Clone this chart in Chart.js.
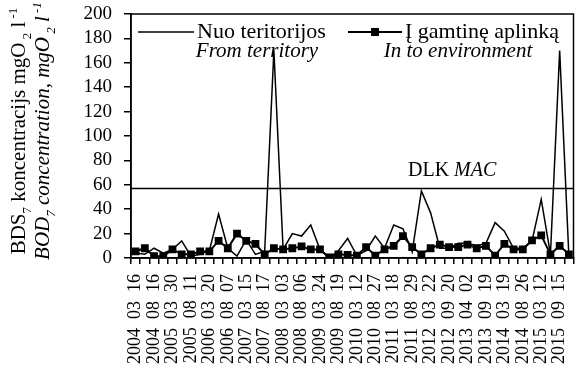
<!DOCTYPE html>
<html>
<head>
<meta charset="utf-8">
<script src="https://cdn.jsdelivr.net/npm/chart.js@4.4.0/dist/chart.umd.min.js"></script>
<style>
  html, body { margin: 0; padding: 0; background: #fff; }
  #wrap { width: 579px; height: 383px; }
</style>
</head>
<body>
<div id="wrap"><canvas id="bodChart" width="579" height="383"></canvas></div>
<script>
// sampling dates shown on the axis (every second sample is labelled)
const dateLabels = [
  '2004 03 16', '2004 08 16', '2005 03 30', '2005 08 11', '2006 03 20', '2006 08 07',
  '2007 03 15', '2007 08 17', '2008 03 03', '2008 08 06', '2009 03 24', '2009 08 19',
  '2010 03 12', '2010 08 27', '2011 03 18', '2011 08 29', '2012 03 22', '2012 09 20',
  '2013 04 02', '2013 09 19', '2014 03 19', '2014 08 26', '2015 03 12', '2015 09 15'
];

// BOD7, mgO2/l
const fromTerritory = [
  4, 3, 8, 4, 7, 14, 1.5, 3, 6, 36, 8, 1.5,
  15, 3, 5.5, 170, 7, 20, 18, 27, 7, 0, 6, 16,
  2, 6, 18, 8, 27, 24, 5, 55, 37, 8, 8, 12,
  12, 10, 12, 29, 22, 8, 8, 14, 48, 3, 170, 1
];
const toEnvironment = [
  5.5, 8, 1.5, 1.5, 7, 3, 3, 5.5, 5.5, 14, 8, 20,
  14, 11.5, 3, 8, 7, 8, 9.5, 7, 7, 0.5, 3, 2.5,
  2, 9, 2, 7, 10, 18, 9, 3, 8, 11, 9, 9,
  11, 8, 10, 2, 11.5, 7, 7, 14.5, 18.5, 3, 10, 3
];
const dlkLimit = 57;   // DLK / MAC
const yMin = 0, yMax = 200, yStep = 20;

const categories = dateLabels.flatMap(d => [d, '']);
const serif = "'Liberation Serif', 'Times New Roman', serif";

// text with sub/superscripts, centred on x
function drawRich(ctx, parts, x, y, size, italic) {
  const fontFor = k => (italic ? 'italic ' : '') + (k === 'n' ? size : Math.round(size * 0.62)) + 'px ' + serif;
  let total = 0;
  parts.forEach(([t, k]) => { ctx.font = fontFor(k); total += ctx.measureText(t).width; });
  let cx = x - total / 2;
  parts.forEach(([t, k]) => {
    ctx.font = fontFor(k);
    const dy = k === 'sub' ? size * 0.28 : k === 'sup' ? -size * 0.4 : 0;
    ctx.fillText(t, cx, y + dy);
    cx += ctx.measureText(t).width;
  });
}

const overlay = {
  id: 'overlay',
  afterDatasetsDraw(chart) {
    const ctx = chart.ctx;
    const area = chart.chartArea;
    const y = chart.scales.y;
    ctx.save();
    ctx.strokeStyle = '#000';
    ctx.fillStyle = '#000';

    // frame
    ctx.lineWidth = 1.5;
    ctx.strokeRect(area.left, area.top, area.right - area.left, area.bottom - area.top);

    // DLK line
    const yd = Math.round(y.getPixelForValue(dlkLimit)) + 0.5;
    ctx.beginPath();
    ctx.moveTo(area.left, yd);
    ctx.lineTo(area.right, yd);
    ctx.stroke();
    ctx.textAlign = 'left';
    ctx.textBaseline = 'alphabetic';
    ctx.font = '20px ' + serif;
    ctx.fillText('DLK ', 408, yd - 13);
    const w = ctx.measureText('DLK ').width;
    ctx.font = 'italic 20px ' + serif;
    ctx.fillText('MAC', 408 + w, yd - 13);

    // legend
    const ds = chart.data.datasets;
    const ly = 32;
    ctx.lineWidth = 1.5;
    ctx.beginPath(); ctx.moveTo(138, ly); ctx.lineTo(194, ly); ctx.stroke();
    ctx.lineWidth = 2;
    ctx.beginPath(); ctx.moveTo(348, ly); ctx.lineTo(402, ly); ctx.stroke();
    ctx.fillRect(371, ly - 4, 8, 8);
    ctx.textBaseline = 'middle';
    ctx.font = '22px ' + serif;
    ctx.fillText(ds[0].label, 197, ly);
    ctx.fillText(ds[1].label, 405, ly);
    ctx.font = 'italic 21px ' + serif;
    ctx.textAlign = 'center';
    ctx.fillText(ds[0].subLabel, 257, 51);
    ctx.fillText(ds[1].subLabel, 458, 51);

    // y title, two lines
    ctx.textAlign = 'left';
    ctx.textBaseline = 'alphabetic';
    ctx.translate(0, 131);
    ctx.rotate(-Math.PI / 2);
    drawRich(ctx, [['BDS', 'n'], ['7', 'sub'], [' koncentracijs mgO', 'n'], [' 2', 'sub'], [' l', 'n'], [' -1', 'sup']], 0, 25, 21, false);
    drawRich(ctx, [['BOD', 'n'], ['7', 'sub'], [' concentration, mgO', 'n'], [' 2', 'sub'], [' l', 'n'], [' -1', 'sup']], 0, 49, 21, true);
    ctx.restore();
  }
};

new Chart(document.getElementById('bodChart').getContext('2d'), {
  type: 'line',
  data: {
    labels: categories,
    datasets: [{
      label: 'Nuo teritorijos',
      subLabel: 'From territory',
      data: fromTerritory,
      borderColor: '#000',
      borderWidth: 1.5,
      pointRadius: 0,
      tension: 0
    }, {
      label: 'Į gamtinę aplinką',
      subLabel: 'In to environment',
      data: toEnvironment,
      borderColor: '#000',
      borderWidth: 2,
      pointStyle: 'rect',
      pointRadius: 5.5,
      pointBackgroundColor: '#000',
      pointBorderWidth: 0,
      tension: 0
    }]
  },
  options: {
    responsive: false,
    animation: false,
    devicePixelRatio: 1,
    layout: { padding: { left: 56, right: 1, top: 14, bottom: 0 } },
    plugins: { legend: { display: false }, tooltip: { enabled: false } },
    scales: {
      x: {
        offset: true,
        grid: { offset: true, drawOnChartArea: false, tickLength: 6, color: '#000', lineWidth: 1.5 },
        border: { color: '#000', width: 1.5 },
        ticks: {
          autoSkip: false,
          maxRotation: 90,
          minRotation: 90,
          padding: 10,
          color: '#000',
          font: { family: serif, size: 18 },
          callback: (v, i) => categories[i].replace(/ /g, '  ')
        },
        afterFit(s) {
          s.height = 125;
          s.paddingLeft = 0;
          s.paddingRight = 0;
        }
      },
      y: {
        min: yMin,
        max: yMax,
        ticks: { stepSize: yStep, autoSkip: false, padding: 12, color: '#000', font: { family: serif, size: 19 } },
        grid: { drawOnChartArea: false, tickLength: 7, color: '#000', lineWidth: 1.5 },
        border: { color: '#000', width: 1.5 },
        afterFit(s) {
          s.width = 75;
          s.paddingTop = 0;
          s.paddingBottom = 0;
        }
      }
    }
  },
  plugins: [overlay]
});
</script>
</body>
</html>
